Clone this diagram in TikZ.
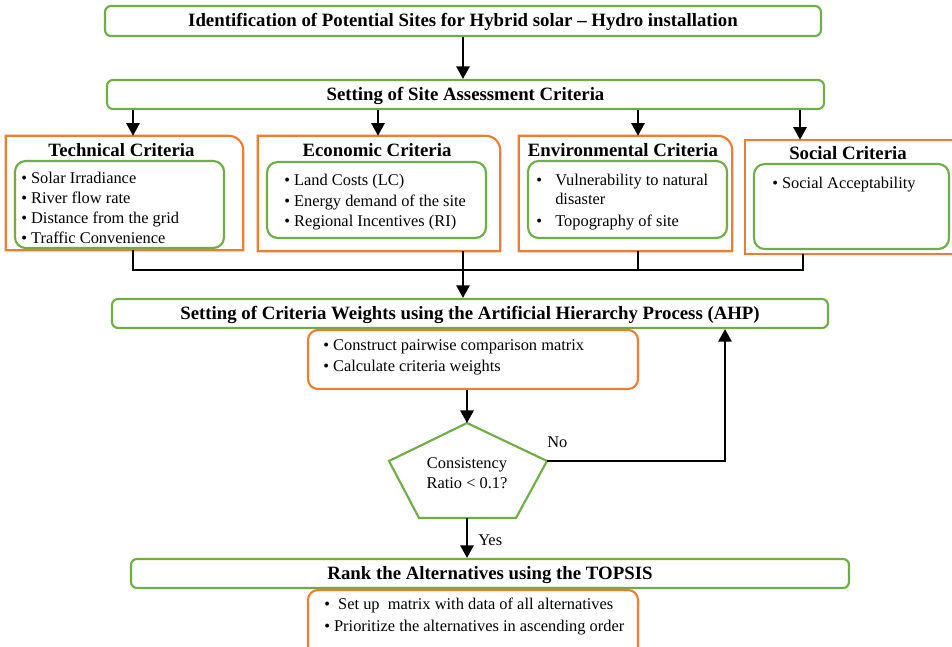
\documentclass[tikz,border=0pt]{standalone}
\usepackage{fontspec}
\setmainfont{Liberation Serif}
\usetikzlibrary{arrows.meta}
\definecolor{ggreen}{HTML}{70AD47}
\definecolor{oorange}{HTML}{ED7D31}
\begin{document}
\begin{tikzpicture}[x=0.75pt,y=-0.75pt,
  gbox/.style={draw=ggreen,line width=1.6pt,rounded corners=4.5pt,fill=white,inner sep=0pt},
  obox/.style={draw=oorange,line width=1.6pt,rounded corners=7.5pt,fill=white,inner sep=0pt},
  hold/.style={inner sep=0pt,draw=none},
  oline/.style={draw=oorange,line width=1.6pt,fill=white},
  gline/.style={draw=ggreen,line width=1.6pt},
  ttl/.style={font=\fontsize{14.1}{17}\selectfont\bfseries},
  boxttl/.style={ttl,text height=12pt,text depth=3.4pt},
  itm/.style={font=\fontsize{12.3}{15}\selectfont,anchor=base west,inner sep=0pt},
  arr/.style={line width=1.5pt,-{Triangle[length=9.5pt,width=10pt]}},
  thinl/.style={line width=1pt},
]
\useasboundingbox (0,0) rectangle (952,646);
\clip (0,0) rectangle (952,646);

% top boxes
\node[gbox,boxttl,minimum width=537pt,minimum height=22.5pt] (b1) at (463,21) {Identification of Potential Sites for Hybrid solar – Hydro installation};
\node[gbox,boxttl,minimum width=537.75pt,minimum height=21.75pt] (b2) at (465.5,94.5) {Setting of Site Assessment Criteria};
\draw[arr] (b1.south) -- (b1.south |- b2.north);

% criteria holders
\node[hold,minimum width=177.75pt,minimum height=85.5pt] (tech) at (124.5,193) {};
\node[hold,minimum width=181.5pt,minimum height=86.25pt] (econ) at (379,193.5) {};
\node[hold,minimum width=159.75pt,minimum height=86.25pt] (env) at (625.5,193.5) {};
\node[hold,minimum width=157.5pt,minimum height=85.5pt] (soc) at (850,197) {};

\draw[oline] (tech.south west) -- (tech.north west) -- ([xshift=-11pt]tech.north east) arc[start angle=90,end angle=0,radius=11pt] -- (tech.south east) -- cycle;
\draw[oline] (econ.south west) -- (econ.north west) -- ([xshift=-11pt]econ.north east) arc[start angle=90,end angle=0,radius=11pt] -- (econ.south east) -- cycle;
\draw[oline] (env.south west) -- (env.north west) -- ([xshift=-11pt]env.north east) arc[start angle=90,end angle=0,radius=11pt] -- (env.south east) -- cycle;
\draw[oline] (soc.south west) rectangle (soc.north east);

% inner green boxes
\node[gbox,rounded corners=8pt,minimum width=156.75pt,minimum height=65.25pt] (techin) at (119.5,204.5) {};
\node[gbox,rounded corners=8pt,minimum width=164.25pt,minimum height=57pt] (econin) at (376.5,200) {};
\node[gbox,rounded corners=8pt,minimum width=149.25pt,minimum height=57.75pt] (envin) at (627.5,199.5) {};
\node[gbox,rounded corners=8pt,minimum width=146.25pt,minimum height=63.75pt] (socin) at (851.5,206.5) {};

% criteria titles
\node[ttl,anchor=base,inner sep=0pt] (techt) at (121.5,156) {Technical Criteria};
\node[ttl,anchor=base,inner sep=0pt] (econt) at (377,156) {Economic Criteria};
\node[ttl,anchor=base,inner sep=0pt] (envt) at (623,156) {Environmental Criteria};
\node[ttl,anchor=base,inner sep=0pt] (soct) at (848,159) {Social Criteria};

% items
\node[itm] (t1) at (21,183) {• Solar Irradiance};
\node[itm] (t2) at (21,203) {• River flow rate};
\node[itm] (t3) at (21,223) {• Distance from the grid};
\node[itm] (t4) at (21,243) {• Traffic Convenience};
\node[itm] (e1) at (284,185) {• Land Costs (LC)};
\node[itm] (e2) at (284,206) {• Energy demand of the site};
\node[itm] (e3) at (284,226) {• Regional Incentives (RI)};
\node[itm] (v1b) at (536,185) {•};
\node[itm] (v1) at (555,185) {Vulnerability to natural};
\node[itm] (v2) at (555,204) {disaster};
\node[itm] (v3b) at (536,226) {•};
\node[itm] (v3) at (555,226) {Topography of site};
\node[itm] (s1) at (772,188) {• Social Acceptability};

% arrows from b2
\coordinate (xt) at (133,0);
\coordinate (xe) at (378,0);
\coordinate (xv) at (638,0);
\coordinate (xs) at (800,0);
\coordinate (xj) at (803,0);
\coordinate (xm) at (463,0);
\coordinate (jy) at (0,270);
\draw[arr] (xt |- b2.south) -- (xt |- tech.north);
\draw[arr] (xe |- b2.south) -- (xe |- econ.north);
\draw[arr] (xv |- b2.south) -- (xv |- env.north);
\draw[arr] (xs |- b2.south) -- (xs |- soc.north);

% joining lines
\draw[thinl] (xt |- tech.south) -- (xt |- jy) -- (xj |- jy) -- (xj |- soc.south);
\draw[thinl] (xv |- env.south) -- (xv |- jy);
\draw[thinl] (xm |- econ.south) -- (xm |- jy);

% AHP
\node[gbox,boxttl,minimum width=537pt,minimum height=21.75pt] (b3) at (470,313.5) {Setting of Criteria Weights using the Artificial Hierarchy Process (AHP)};
\draw[arr] (xm |- jy) -- (xm |- b3.north);
\node[obox,minimum width=247.5pt,minimum height=44.25pt] (ahp) at (473,359.5) {};
\node[itm] (a1) at (323,350) {• Construct pairwise comparison matrix};
\node[itm] (a2) at (323,371) {• Calculate criteria weights};

% pentagon
\coordinate (pt) at (467,423);
\coordinate (pr) at (547,461);
\coordinate (pbr) at (516,518);
\coordinate (pbl) at (419,518);
\coordinate (pl) at (389,461);
\coordinate (pb) at (467,518);
\draw[gline,line join=miter] (pt) -- (pr) -- (pbr) -- (pbl) -- (pl) -- cycle;
\node[font=\fontsize{12.3}{15}\selectfont,align=center,inner sep=0pt] (cr) at (467,473) {Consistency\\Ratio < 0.1?};
\draw[arr] (ahp.south -| pt) -- (pt);

\coordinate (nox) at (725,0);
\draw[arr] (pr) -- (nox |- pr) -- (nox |- b3.south);
\node[itm] (no) at (547,447) {No};

% TOPSIS
\node[gbox,boxttl,minimum width=538.5pt,minimum height=21.75pt] (b4) at (490,573.5) {Rank the Alternatives using the TOPSIS};
\draw[arr] (pb) -- (pb |- b4.north);
\node[itm] (yes) at (478,545) {Yes};
\node[obox,minimum width=247.5pt,minimum height=60pt] (tps) at (473,630) {};
\node[itm] (r1) at (324,609) {•\ \ Set up\ \ matrix with data of all alternatives};
\node[itm] (r2) at (324,631) {• Prioritize the alternatives in ascending order};
\end{tikzpicture}
\end{document}
